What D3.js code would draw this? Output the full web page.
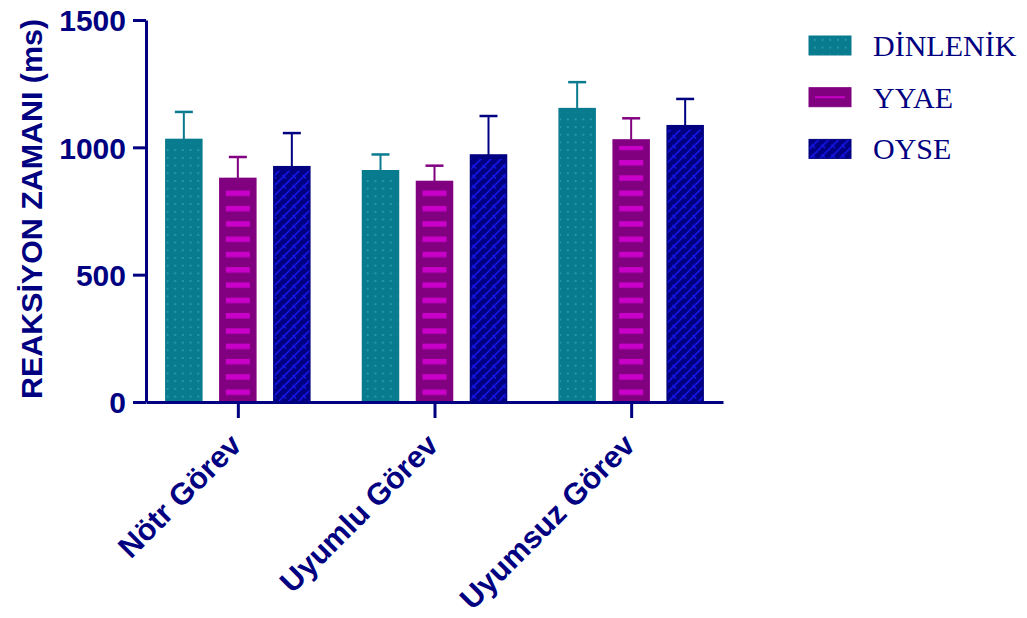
<!DOCTYPE html>
<html>
<head>
<meta charset="utf-8">
<script src="https://cdn.jsdelivr.net/npm/d3@7"></script>
<style>
  body { margin: 0; background: #fff; }
  svg { display: block; }
</style>
</head>
<body>
<svg width="1027" height="618"></svg>
<script>
const categories = ["Nötr Görev", "Uyumlu Görev", "Uyumsuz Görev"];
const seriesNames = ["DİNLENİK", "YYAE", "OYSE"];
// means, one array per series, in category order
const dinlenik = [1031, 908, 1152];
const yyae = [878, 866, 1029];
const oyse = [924, 970, 1085];
// top of the error bar (mean + error)
const dinlenikErr = [1139, 972, 1256];
const yyaeErr = [962, 928, 1114];
const oyseErr = [1056, 1123, 1190];
const yTicks = [0, 500, 1000, 1500];

const navy = "#000080";
const colors = { "DİNLENİK": "#097b8f", "YYAE": "#800080", "OYSE": "#000080" };

const svg = d3.select("svg");
const defs = svg.append("defs");

// dotted pattern for DİNLENİK
const pDots = defs.append("pattern").attr("id", "p-dots")
  .attr("patternUnits", "userSpaceOnUse").attr("width", 7.7).attr("height", 7.7)
  .attr("x", 2).attr("y", 0);
pDots.append("rect").attr("width", 7.7).attr("height", 7.7).attr("fill", colors["DİNLENİK"]);
pDots.append("circle").attr("cx", 3.8).attr("cy", 3.8).attr("r", 1).attr("fill", "#2aa2b4");

// horizontal stripes for YYAE
const pStripe = defs.append("pattern").attr("id", "p-stripe")
  .attr("patternUnits", "userSpaceOnUse").attr("width", 10).attr("height", 15.3)
  .attr("x", 0).attr("y", 389.5);
pStripe.append("rect").attr("width", 10).attr("height", 5.5).attr("fill", "#c800c8");

// zigzag hatch for OYSE
const pHatch = defs.append("pattern").attr("id", "p-hatch")
  .attr("patternUnits", "userSpaceOnUse").attr("width", 10).attr("height", 10);
pHatch.append("rect").attr("width", 10).attr("height", 10).attr("fill", colors["OYSE"]);
pHatch.append("path").attr("d", "M0,10 L10,0 M-2,2 L2,-2 M8,12 L12,8 M2.5,5 L6,8.5")
  .attr("stroke", "#1414e0").attr("stroke-width", 1.7).attr("fill", "none");

const fills = { "DİNLENİK": "url(#p-dots)", "YYAE": colors["YYAE"], "OYSE": "url(#p-hatch)" };

const means = { "DİNLENİK": dinlenik, "YYAE": yyae, "OYSE": oyse };
const errs = { "DİNLENİK": dinlenikErr, "YYAE": yyaeErr, "OYSE": oyseErr };

const y = d3.scaleLinear().domain([0, 1500]).range([402, 20]);
const x = d3.scalePoint().domain(categories).range([146, 723]).padding(0.467);
const xs = d3.scaleBand().domain(seriesNames).range([-72, 72]).paddingInner(1 / 3);

const bars = [];
categories.forEach((c, i) => {
  seriesNames.forEach(s => bars.push({ cat: c, s, v: means[s][i], e: errs[s][i] }));
});

// error bars (drawn first, bar covers the stem bottom)
const eb = svg.append("g");
eb.selectAll("line.stem").data(bars).join("line")
  .attr("x1", d => x(d.cat) + xs(d.s) + xs.bandwidth() / 2)
  .attr("x2", d => x(d.cat) + xs(d.s) + xs.bandwidth() / 2)
  .attr("y1", d => y(d.v)).attr("y2", d => y(d.e))
  .attr("stroke", d => colors[d.s]).attr("stroke-width", 2);
eb.selectAll("line.cap").data(bars).join("line")
  .attr("x1", d => x(d.cat) + xs(d.s) + xs.bandwidth() / 2 - 9)
  .attr("x2", d => x(d.cat) + xs(d.s) + xs.bandwidth() / 2 + 9)
  .attr("y1", d => y(d.e)).attr("y2", d => y(d.e))
  .attr("stroke", d => colors[d.s]).attr("stroke-width", 2.5);

// bars
svg.append("g").selectAll("rect").data(bars).join("rect")
  .attr("x", d => x(d.cat) + xs(d.s))
  .attr("y", d => y(d.v))
  .attr("width", xs.bandwidth())
  .attr("height", d => y(0) - y(d.v))
  .attr("fill", d => fills[d.s])
  .attr("stroke", d => colors[d.s]).attr("stroke-width", 1.5);

// top edge of bars slightly darker
svg.append("g").selectAll("rect").data(bars).join("rect")
  .attr("x", d => x(d.cat) + xs(d.s))
  .attr("y", d => y(d.v))
  .attr("width", xs.bandwidth())
  .attr("height", 4)
  .attr("fill", d => colors[d.s]);

// inner stripes for YYAE
svg.append("g").selectAll("rect").data(bars.filter(d => d.s === "YYAE")).join("rect")
  .attr("x", d => x(d.cat) + xs(d.s) + 6)
  .attr("y", d => y(d.v) + 6)
  .attr("width", xs.bandwidth() - 12)
  .attr("height", d => y(0) - y(d.v) - 6)
  .attr("fill", "url(#p-stripe)");

// axes
const yAxis = svg.append("g").attr("transform", "translate(146,0)")
  .call(d3.axisLeft(y).tickValues(yTicks).tickFormat(d3.format("d"))
    .tickSize(13).tickSizeOuter(0).tickPadding(7));
const xAxis = svg.append("g").attr("transform", "translate(0,402)")
  .call(d3.axisBottom(x).tickSize(16).tickSizeOuter(0));

[yAxis, xAxis].forEach(a => {
  a.select(".domain").attr("stroke", navy).attr("stroke-width", 3);
  a.selectAll(".tick line").attr("stroke", navy).attr("stroke-width", 3);
});
yAxis.selectAll(".tick text")
  .attr("fill", navy).attr("font-family", "Liberation Sans, Arial, sans-serif")
  .attr("font-weight", "bold").attr("font-size", 30).attr("dy", "0.36em");
xAxis.selectAll(".tick text")
  .attr("fill", navy).attr("font-family", "Liberation Sans, Arial, sans-serif")
  .attr("font-weight", "bold").attr("font-size", 30.5)
  .attr("text-anchor", "end")
  .attr("dy", 0).attr("y", 0)
  .attr("transform", "translate(5,45) rotate(-45)");

// y axis title
svg.append("text")
  .attr("transform", "translate(42,209) rotate(-90)")
  .attr("text-anchor", "middle")
  .attr("fill", navy).attr("font-family", "Liberation Sans, Arial, sans-serif")
  .attr("font-weight", "bold").attr("font-size", 29)
  .attr("textLength", 380).attr("lengthAdjust", "spacingAndGlyphs")
  .text("REAKSİYON ZAMANI (ms)");

// legend
const lg = svg.append("g").selectAll("g").data(seriesNames).join("g")
  .attr("transform", (d, i) => `translate(809,${36 + i * 51.7})`);
lg.append("rect").attr("width", 42).attr("height", 19)
  .attr("fill", d => fills[d]).attr("stroke", d => colors[d]).attr("stroke-width", 1);
lg.filter(d => d === "YYAE").append("rect")
  .attr("x", 6).attr("y", 8.5).attr("width", 30).attr("height", 2).attr("fill", "#c800c8");
lg.append("text").attr("x", 64).attr("y", 20)
  .attr("fill", navy).attr("font-family", "Liberation Serif, Times New Roman, serif")
  .attr("font-size", 30).text(d => d);
</script>
</body>
</html>
